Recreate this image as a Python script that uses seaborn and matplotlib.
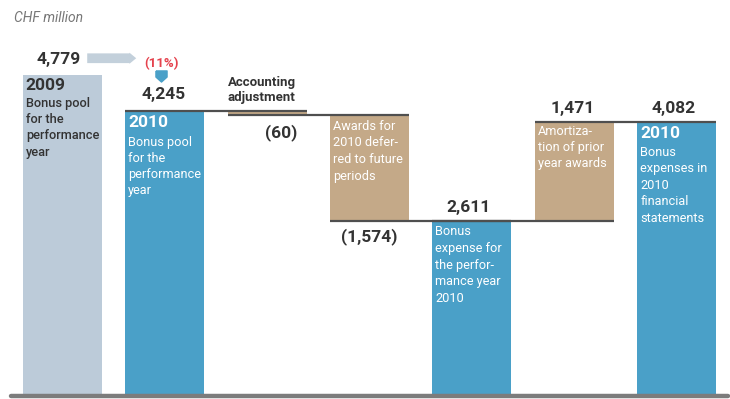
import matplotlib
matplotlib.use("Agg")
import matplotlib.pyplot as plt
import matplotlib.transforms as mtransforms
from matplotlib.path import Path
import seaborn as sns
import pandas as pd
import numpy as np

# ---- data -------------------------------------------------------------
steps = ["pool_2009", "pool_2010", "accounting", "deferred", "expense_py", "amortization", "expense_fs"]
amounts = [4779, 4245, -60, -1574, 2611, 1471, 4082]
kinds = ["prior", "total", "delta", "delta", "total", "delta", "total"]
value_labels = ["4,779", "4,245", "(60)", "(1,574)", "2,611", "1,471", "4,082"]
change_label = "(11%)"
bar_titles = ["2009", "2010", "", "", "", "", "2010"]
bar_texts = [
    ["Bonus pool", "for the", "performance", "year"],
    ["Bonus pool", "for the", "performance", "year"],
    [],
    ["Awards for", "2010 defer-", "red to future", "periods"],
    ["Bonus", "expense for", "the perfor-", "mance year", "2010"],
    ["Amortiza-", "tion of prior", "year awards"],
    ["Bonus", "expenses in", "2010", "financial", "statements"],
]
side_label = ["Accounting", "adjustment"]
unit_label = "CHF million"

# ---- waterfall geometry from the amounts --------------------------------
bottoms, heights, levels = [], [], []
running = 0
for amt, kind in zip(amounts, kinds):
    if kind == "delta":
        new = running + amt
        bottoms.append(min(running, new))
        heights.append(abs(amt))
        running = new
    else:
        bottoms.append(0)
        heights.append(amt)
        running = amt
    levels.append(running)
tops = [b + h for b, h in zip(bottoms, heights)]

palette = {"prior": "#bccbd9", "total": "#4aa0c8", "delta": "#c4a988"}
dark = "#333333"

sns.set_theme(style="white")
plt.rcParams["font.family"] = ["Roboto", "DejaVu Sans"]

fig = plt.figure(figsize=(7.30, 3.99), dpi=100)
ax = fig.add_axes([11 / 730, 3 / 399, 717 / 730, 396 / 399])

df = pd.DataFrame({"step": steps, "height": heights, "kind": kinds})
width = 0.77
totals = df[df["kind"] != "delta"]
sns.barplot(data=totals, x="step", y="height", hue="kind", order=steps,
            palette=palette, width=width, dodge=False, legend=False,
            linewidth=0, saturation=1, ax=ax)

# floating bars for the changes
pos = np.arange(len(steps))
for i, kind in enumerate(kinds):
    if kind == "delta":
        ax.bar(pos[i], heights[i], bottom=bottoms[i], width=width,
               color=palette["delta"], linewidth=0, zorder=2)

# connector lines between steps
for i in range(1, len(steps) - 1):
    ax.plot([pos[i] - width / 2, pos[i + 1] + width / 2], [levels[i], levels[i]],
            color="#4f4f4f", lw=1.6, solid_capstyle="butt", zorder=3)

ax.set_xlim(-0.5, len(steps) - 0.5)
ax.set_ylim(0, 5900)
ax.axhline(0, color="#7c7c7c", lw=3.2, zorder=4, clip_on=False)
ax.set_xticks([])
ax.set_yticks([])
ax.set_xlabel("")
ax.set_ylabel("")
for s in ax.spines.values():
    s.set_visible(False)


def off(dx, dy):
    return mtransforms.offset_copy(ax.transData, fig=fig, x=dx, y=dy, units="dots")


# value labels
label_offsets = [(-4, 16, "top"), (-1, 17, "top"), (14, -17, "bottom"),
                 (0, -16, "bottom"), (-3, 13, "top"), (-2, 14, "top"), (-3, 14, "top")]
for i, (dx, dy, where) in enumerate(label_offsets):
    y = tops[i] if where == "top" else bottoms[i]
    ax.text(pos[i], y, value_labels[i], transform=off(dx, dy), ha="center", va="center",
            fontsize=12.5, fontweight="bold", color=dark)

# year-on-year change between the two pools
ax.text(pos[1], tops[1], change_label, transform=off(-3, 48), ha="center", va="center",
        fontsize=9.5, fontweight="bold", color="#e5424d")
pent = Path([(-1, 1), (1, 1), (1, -0.1), (0, -1), (-1, -0.1), (-1, 1)])
ax.plot([pos[1]], [tops[1]], marker=pent, markersize=8, color="#4aa0c8",
        transform=off(-4, 35), clip_on=False)
ax.annotate("", xy=(pos[0], tops[0]), xytext=(pos[0], tops[0]),
            xycoords=off(74, 17), textcoords=off(25, 17),
            arrowprops=dict(arrowstyle="simple,head_length=0.7,head_width=1.15,tail_width=1.0",
                            mutation_scale=7, color="#c3d0db", lw=0, shrinkA=0, shrinkB=0))

# text inside / beside the bars
title_dy = [-10, -11, None, None, None, None, -11]
body_dy = [-28, -31, None, -11, -11, -9, -30]
spacing = [16.3, 16, None, 16.7, 16.7, 16, 16.5]
for i in range(len(steps)):
    left = pos[i] - width / 2
    col = dark if kinds[i] == "prior" else "white"
    wt = "medium" if kinds[i] == "prior" else "normal"
    if bar_titles[i]:
        ax.text(left, tops[i], bar_titles[i], transform=off(3, title_dy[i]),
                ha="left", va="center", fontsize=12.5, fontweight="bold", color=col)
    for k, line in enumerate(bar_texts[i]):
        ax.text(left, tops[i], line, transform=off(3, body_dy[i] - k * spacing[i]),
                ha="left", va="center", fontsize=9.2, fontweight=wt, color=col)

for k, line in enumerate(side_label):
    ax.text(pos[2] - width / 2, tops[2], line, transform=off(0, 29 - k * 15),
            ha="left", va="center", fontsize=9.5, fontweight="bold", color=dark)

fig.text(14 / 730, 1 - 18 / 399, unit_label, ha="left", va="center",
         fontsize=10, fontstyle="italic", color="#777777")

fig.savefig("out.png", dpi=100)
